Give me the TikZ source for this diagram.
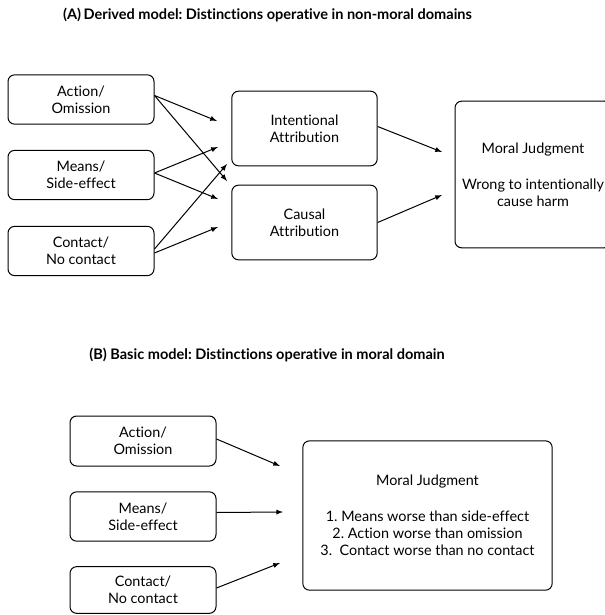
\documentclass[tikz,border=0pt]{standalone}
\usepackage{fontspec}
\setmainfont{Lato}[Ligatures=NoCommon]
\usetikzlibrary{calc,positioning,arrows.meta}
\tikzset{
    factor/.style={
      draw, rounded corners=5pt, line width=0.75pt, align=center,
      minimum width=109.5pt, minimum height=37pt, inner sep=0pt,
      font=\fontsize{10.8}{12.75}\selectfont,
    },
    attrib/.style={factor, minimum width=109pt, minimum height=56pt},
    judge/.style={factor},
    link/.style={-latex, line width=0.75pt},
    heading/.style={font=\fontsize{10.9}{13}\selectfont\bfseries},
  }
\frenchspacing

\begin{document}
\begin{tikzpicture}[x=0.75pt, y=-0.75pt]
      \clip (0,0) rectangle (605,615);
      \fill[white] (0,0) rectangle (605,615);

      % (A) derived model
      \node[heading] (titleA) at (267.5,15) {(A)\,Derived model: Distinctions operative in non-moral domains};

      % input factors
      \node[factor] (act)     at (81,99.5) {Action/\\Omission};
      \node[factor] (means)   at (81,175)  {Means/\\Side-effect};
      \node[factor] (contact) at (81,251)  {Contact/\\No contact};

      % attributions
      \node[attrib] (intent) at (304.5,128.5) {Intentional\\Attribution};
      \node[attrib] (causal) at (304.5,222.5) {Causal\\Attribution};

      % judgment
      \node[judge, minimum width=117pt, minimum height=110pt] (moralA) at (533,174.5)
         {Moral Judgment\\[14pt]Wrong to intentionally\\cause harm};

      % arrow ends
      \coordinate (actI)  at (217,121);
      \coordinate (actC)  at (227,181);
      \coordinate (meaI)  at (218,147);
      \coordinate (meaC)  at (218,199);
      \coordinate (conI)  at (227,164);
      \coordinate (conC)  at (218,227);
      \coordinate (intM)  at (442,152);
      \coordinate (cauM)  at (442,195);

      \draw[link] ([yshift=3pt]act.east) -- (actI);
      \draw[link] ([yshift=3pt]act.east) -- (actC);
      \draw[link] ([yshift=1.5pt]means.east) -- (meaI);
      \draw[link] ([yshift=1.5pt]means.east) -- (meaC);
      \draw[link] ([yshift=1.5pt]contact.east) -- (conI);
      \draw[link] ([yshift=-1.5pt]contact.east) -- (conC);
      \draw[link] ([yshift=1.5pt]intent.east) -- (intM);
      \draw[link] (causal.east) -- (cauM);

      % (B) basic model
      \node[heading] (titleB) at (267,355) {(B) Basic model: Distinctions operative in moral domain};

      \node[factor, minimum height=37.5pt] (actB)     at (143,441)   {Action/\\Omission};
      \node[factor]                        (meansB)   at (143,516.5) {Means/\\Side-effect};
      \node[factor, minimum height=35pt]   (contactB) at (143,590)   {Contact/\\No contact};

      \node[judge, minimum width=187pt, minimum height=112pt] (moralB) at (427.5,515.5)
         {Moral Judgment\\[14pt]1. Means worse than side-effect\\2. Action worse than omission\\3.~ Contact worse than no contact};

      % arrow ends
      \coordinate (actBM) at (280,466);
      \coordinate (meaBM) at (283,512);
      \coordinate (conBM) at (280,563);

      \draw[link] ([yshift=1.5pt]actB.east) -- (actBM);
      \draw[link] ([yshift=3pt]meansB.east) -- (meaBM);
      \draw[link] ([yshift=1.5pt]contactB.east) -- (conBM);
    \end{tikzpicture}
\end{document}
